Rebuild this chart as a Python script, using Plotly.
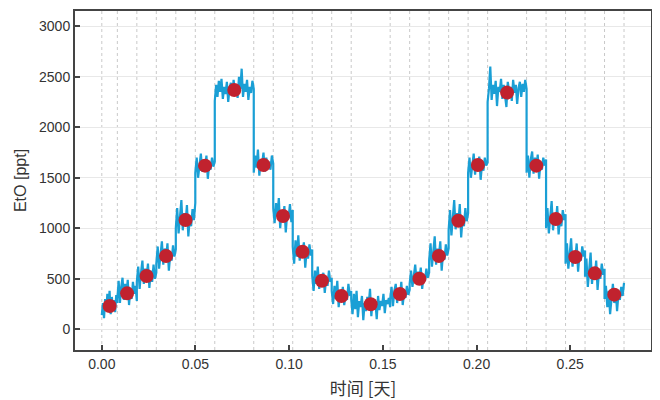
import numpy as np
import plotly.graph_objects as go

# ---- data ----
step_edges = [0.0, 0.0083, 0.0187, 0.0291, 0.0395, 0.0499, 0.0603, 0.0811, 0.0915,
              0.1019, 0.1123, 0.1227, 0.1331, 0.1539, 0.1643, 0.1747, 0.1851, 0.1955,
              0.2059, 0.2267, 0.2371, 0.2475, 0.2579, 0.2683, 0.2787]

sample_time = [0.0042, 0.0135, 0.0239, 0.0343, 0.0447, 0.0551, 0.0707, 0.0863,
               0.0967, 0.1071, 0.1175, 0.1279, 0.1435, 0.1591, 0.1695, 0.1799,
               0.1903, 0.2007, 0.2163, 0.2319, 0.2423, 0.2527, 0.2631, 0.2735]
sample_ppt = [231, 356, 528, 726, 1082, 1620, 2369, 1627, 1122, 768, 481, 330,
              248, 350, 501, 726, 1075, 1627, 2343, 1620, 1092, 716, 554, 343]

trace_ppt = [
    [140, 260, 110, 300, 180, 350, 200, 380, 150, 320, 220, 290, 170, 340, 260],
    [300, 480, 260, 420, 510, 290, 450, 330, 490, 240, 400, 300, 470, 350, 430, 280],
    [470, 620, 400, 560, 680, 450, 600, 520, 650, 410, 580, 470, 640, 500, 560],
    [650, 820, 600, 760, 870, 640, 800, 700, 850, 580, 740, 680, 830, 720, 790],
    [1000, 1200, 950, 1130, 1280, 980, 1150, 1050, 1230, 920, 1100, 1020, 1190, 1080, 1250],
    [1550, 1700, 1500, 1650, 1740, 1560, 1680, 1600, 1720, 1490, 1640, 1580, 1700, 1610, 1660],
    [2260, 2420, 2300, 2460, 2350, 2480, 2280, 2400, 2330, 2450, 2250, 2390, 2440, 2320, 2470,
     2360, 2410, 2290, 2500, 2380, 2580, 2300, 2430, 2350, 2470, 2270, 2400, 2340, 2460, 2380],
    [1550, 1720, 1600, 1780, 1520, 1680, 1640, 1750, 1560, 1700, 1620, 1660, 1580, 1720, 1640],
    [1200, 1050, 1250, 1120, 1300, 1000, 1180, 1080, 1220, 960, 1150, 1100, 1240, 1060, 1180],
    [820, 650, 880, 720, 930, 680, 800, 740, 860, 610, 780, 700, 840, 730, 790],
    [530, 380, 580, 450, 620, 400, 520, 460, 560, 360, 500, 430, 580, 470, 510],
    [380, 250, 430, 300, 480, 220, 360, 310, 420, 240, 350, 290, 450, 330, 380],
    [300, 150, 350, 200, 380, 120, 280, 220, 330, 90, 260, 180, 320, 240, 400,
     130, 300, 210, 270, 100, 330, 190, 280, 230, 350, 160, 290, 250, 310, 220],
    [300, 420, 230, 380, 450, 260, 400, 320, 470, 240, 360, 310, 430, 340, 390],
    [450, 580, 420, 540, 640, 460, 570, 500, 610, 400, 530, 480, 600, 510, 560],
    [680, 850, 620, 780, 920, 640, 800, 720, 870, 580, 760, 690, 840, 730, 800],
    [980, 1180, 930, 1120, 1280, 990, 1150, 1050, 1240, 910, 1100, 1020, 1200, 1070, 1150],
    [1550, 1700, 1500, 1660, 1740, 1530, 1680, 1600, 1710, 1480, 1640, 1570, 1700, 1620, 1650],
    [2250, 2380, 2600, 2270, 2420, 2330, 2460, 2210, 2400, 2350, 2480, 2280, 2420, 2320, 2200,
     2450, 2360, 2400, 2260, 2470, 2340, 2420, 2230, 2390, 2450, 2300, 2430, 2350, 2470, 2380],
    [1550, 1720, 1500, 1680, 1760, 1540, 1700, 1600, 1730, 1490, 1650, 1580, 1700, 1620, 1680],
    [1000, 1200, 950, 1150, 1270, 980, 1130, 1050, 1220, 940, 1100, 1020, 1180, 1080, 1140],
    [650, 850, 600, 780, 900, 620, 760, 700, 850, 570, 740, 680, 820, 720, 780],
    [520, 700, 420, 620, 760, 450, 600, 520, 680, 390, 570, 500, 650, 540, 600],
    [300, 430, 220, 380, 150, 330, 450, 260, 400, 180, 350, 290, 420, 330, 460],
]

x_tick_vals = [0.0, 0.05, 0.10, 0.15, 0.20, 0.25]
x_tick_text = ["0.00", "0.05", "0.10", "0.15", "0.20", "0.25"]
y_tick_vals = [0, 500, 1000, 1500, 2000, 2500, 3000]

x_label = "时间 [天]"
y_label = "EtO [ppt]"

# ---- build the continuous trace from the step table ----
tx, ty = [], []
for i, vals in enumerate(trace_ppt):
    xs = np.linspace(step_edges[i], step_edges[i + 1], len(vals))
    tx.extend(xs.tolist())
    ty.extend(vals)

fig = go.Figure()
fig.add_trace(go.Scatter(x=tx, y=ty, mode="lines",
                         line=dict(color="#1a9fd5", width=2.2), showlegend=False,
                         hoverinfo="skip"))
fig.add_trace(go.Scatter(x=sample_time, y=sample_ppt, mode="markers",
                         marker=dict(color="#c1222e", size=14, line=dict(width=0)),
                         showlegend=False))

for e in step_edges:
    fig.add_shape(type="line", xref="x", yref="paper", x0=e, x1=e, y0=0, y1=1,
                  line=dict(color="#c9c9c9", width=1, dash="dot"), layer="below")

font_main = "Liberation Sans, Arial, sans-serif"
fig.update_layout(
    width=652, height=392,
    margin=dict(l=67, r=9, t=3, b=50),
    paper_bgcolor="white", plot_bgcolor="white",
    font=dict(family=font_main, size=14, color="#333333"),
    xaxis=dict(
        range=[-0.0143, 0.2931], automargin=False,
        tickvals=x_tick_vals, ticktext=x_tick_text,
        showgrid=False, zeroline=False,
        ticks="inside", ticklen=5, tickwidth=1.5, tickcolor="#444444",
        showline=True, linecolor="#444444", linewidth=2, mirror=True,
        tickfont=dict(size=14, color="#333333"),
        title=dict(text=x_label, standoff=14,
                   font=dict(family="Noto Sans CJK SC, sans-serif", size=17, color="#333333")),
    ),
    yaxis=dict(
        range=[-205, 3151], automargin=False,
        tickvals=y_tick_vals,
        showgrid=True, gridcolor="#e8e8e8", gridwidth=1, zeroline=False,
        ticks="inside", ticklen=5, tickwidth=1.5, tickcolor="#444444",
        showline=True, linecolor="#444444", linewidth=2, mirror=True,
        tickfont=dict(size=14, color="#333333"),
        title=dict(text=y_label, standoff=8,
                   font=dict(family=font_main, size=16, color="#333333")),
    ),
)

fig.write_html("out.html")
